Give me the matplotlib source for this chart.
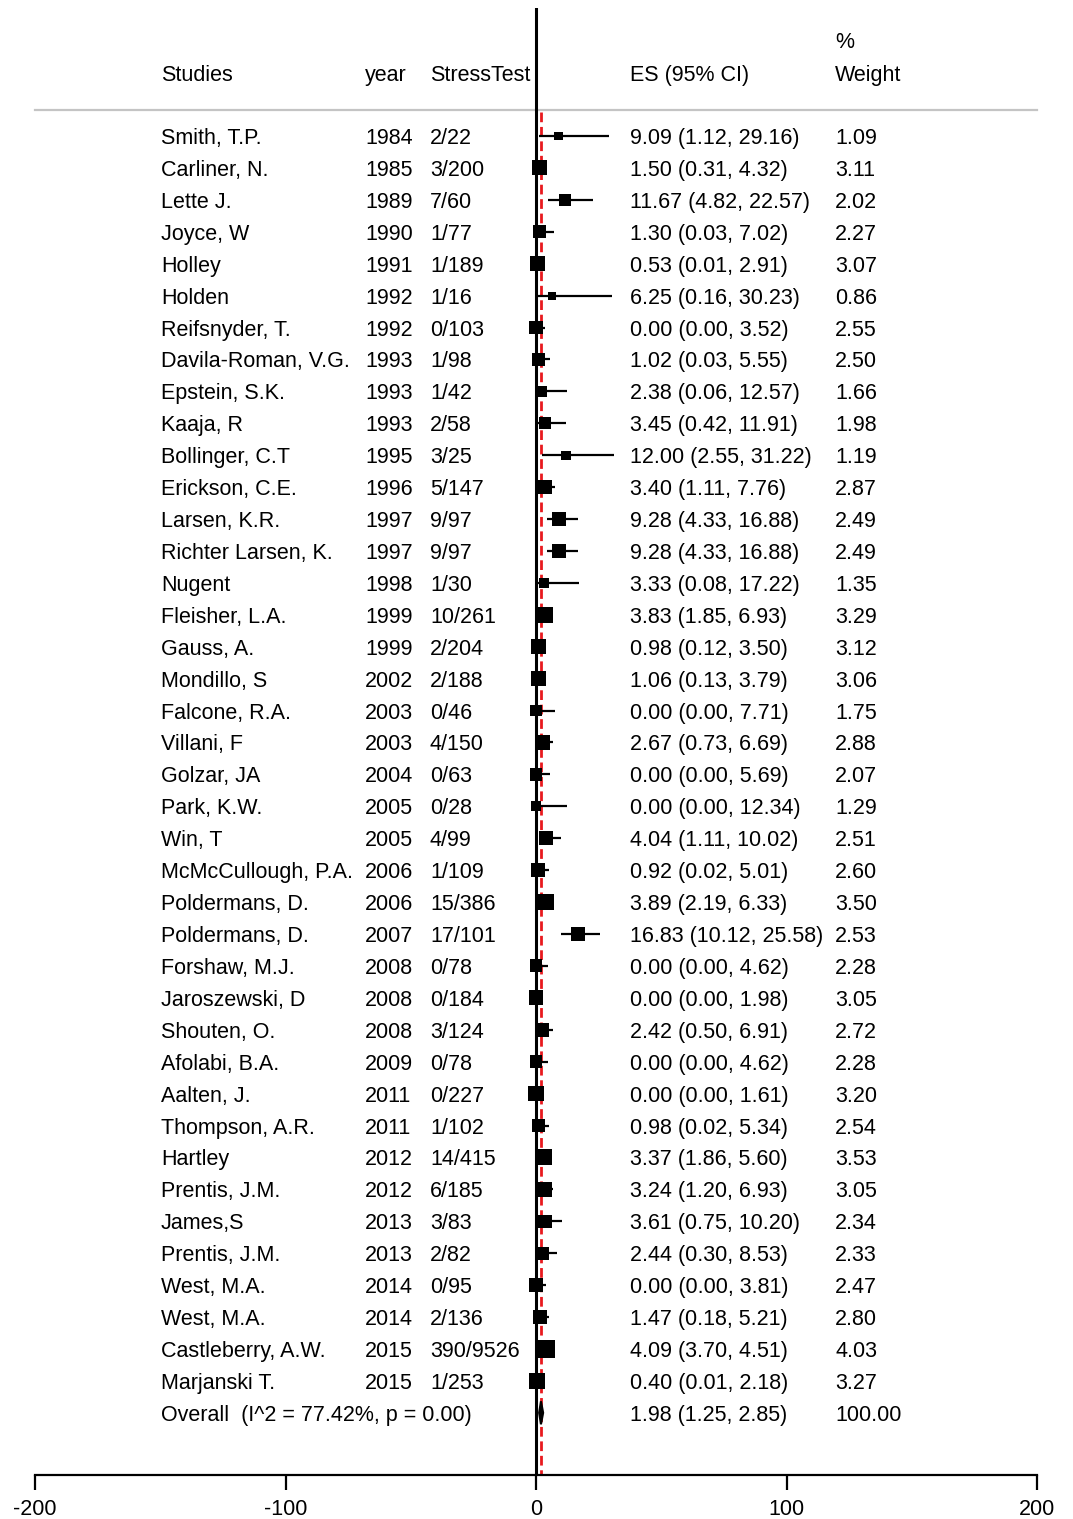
import matplotlib
matplotlib.use("Agg")
import matplotlib.pyplot as plt
from matplotlib.patches import Polygon

plt.rcParams['font.family'] = ['Liberation Sans', 'DejaVu Sans']

studies = ["Smith, T.P.", "Carliner, N.", "Lette J.", "Joyce, W", "Holley", "Holden",
           "Reifsnyder, T.", "Davila-Roman, V.G.", "Epstein, S.K.", "Kaaja, R",
           "Bollinger, C.T", "Erickson, C.E.", "Larsen, K.R.", "Richter Larsen, K.",
           "Nugent", "Fleisher, L.A.", "Gauss, A.", "Mondillo, S", "Falcone, R.A.",
           "Villani, F", "Golzar, JA", "Park, K.W.", "Win, T", "McMcCullough, P.A.",
           "Poldermans, D.", "Poldermans, D.", "Forshaw, M.J.", "Jaroszewski, D",
           "Shouten, O.", "Afolabi, B.A.", "Aalten, J.", "Thompson, A.R.", "Hartley",
           "Prentis, J.M.", "James,S", "Prentis, J.M.", "West, M.A.", "West, M.A.",
           "Castleberry, A.W.", "Marjanski T."]
years = [1984, 1985, 1989, 1990, 1991, 1992, 1992, 1993, 1993, 1993, 1995, 1996, 1997,
         1997, 1998, 1999, 1999, 2002, 2003, 2003, 2004, 2005, 2005, 2006, 2006, 2007,
         2008, 2008, 2008, 2009, 2011, 2011, 2012, 2012, 2013, 2013, 2014, 2014, 2015, 2015]
stress = ["2/22", "3/200", "7/60", "1/77", "1/189", "1/16", "0/103", "1/98", "1/42",
          "2/58", "3/25", "5/147", "9/97", "9/97", "1/30", "10/261", "2/204", "2/188",
          "0/46", "4/150", "0/63", "0/28", "4/99", "1/109", "15/386", "17/101", "0/78",
          "0/184", "3/124", "0/78", "0/227", "1/102", "14/415", "6/185", "3/83", "2/82",
          "0/95", "2/136", "390/9526", "1/253"]
es = [9.09, 1.50, 11.67, 1.30, 0.53, 6.25, 0.00, 1.02, 2.38, 3.45, 12.00, 3.40, 9.28,
      9.28, 3.33, 3.83, 0.98, 1.06, 0.00, 2.67, 0.00, 0.00, 4.04, 0.92, 3.89, 16.83,
      0.00, 0.00, 2.42, 0.00, 0.00, 0.98, 3.37, 3.24, 3.61, 2.44, 0.00, 1.47, 4.09, 0.40]
lo = [1.12, 0.31, 4.82, 0.03, 0.01, 0.16, 0.00, 0.03, 0.06, 0.42, 2.55, 1.11, 4.33,
      4.33, 0.08, 1.85, 0.12, 0.13, 0.00, 0.73, 0.00, 0.00, 1.11, 0.02, 2.19, 10.12,
      0.00, 0.00, 0.50, 0.00, 0.00, 0.02, 1.86, 1.20, 0.75, 0.30, 0.00, 0.18, 3.70, 0.01]
hi = [29.16, 4.32, 22.57, 7.02, 2.91, 30.23, 3.52, 5.55, 12.57, 11.91, 31.22, 7.76, 16.88,
      16.88, 17.22, 6.93, 3.50, 3.79, 7.71, 6.69, 5.69, 12.34, 10.02, 5.01, 6.33, 25.58,
      4.62, 1.98, 6.91, 4.62, 1.61, 5.34, 5.60, 6.93, 10.20, 8.53, 3.81, 5.21, 4.51, 2.18]
weight = [1.09, 3.11, 2.02, 2.27, 3.07, 0.86, 2.55, 2.50, 1.66, 1.98, 1.19, 2.87, 2.49,
          2.49, 1.35, 3.29, 3.12, 3.06, 1.75, 2.88, 2.07, 1.29, 2.51, 2.60, 3.50, 2.53,
          2.28, 3.05, 2.72, 2.28, 3.20, 2.54, 3.53, 3.05, 2.34, 2.33, 2.47, 2.80, 4.03, 3.27]

overall_label = "Overall  (I^2 = 77.42%, p = 0.00)"
overall_es, overall_lo, overall_hi, overall_w = 1.98, 1.25, 2.85, 100.00

xticks = [-200, -100, 0, 100, 200]

W, H = 1073, 1519
fig = plt.figure(figsize=(W / 100, H / 100), dpi=100)
ax = fig.add_axes([35 / W, 1 - 1475 / H, 1002 / W, (1475 - 8) / H])
row0, step = 136, 31.92
ytop = (8 - row0) / step
ybot = (1475 - row0) / step
ax.set_xlim(-200, 200)
ax.set_ylim(ybot, ytop)

def px2x(px):
    return (px - 536) / 2.505

def py2y(py):
    return (py - row0) / step

fs = 15.5
va = 'center_baseline'
n = len(studies)
rows = list(range(n))

for i in rows:
    ax.plot([lo[i], hi[i]], [i, i], color='black', lw=1.6, solid_capstyle='butt', zorder=3)
ax.scatter(es, rows, s=[38 * w for w in weight], marker='s', color='black',
           linewidths=0, zorder=4)

orow = n
dh = 0.36
diamond = Polygon([[overall_lo, orow], [overall_es, orow - dh], [overall_hi, orow],
                   [overall_es, orow + dh]], closed=True, facecolor='black',
                  edgecolor='black', lw=1.5, zorder=4)
ax.add_patch(diamond)

ax.axvline(0, color='black', lw=2.2, zorder=2)
ax.plot([overall_es, overall_es], [py2y(112), ybot], color='#e8191e', lw=2,
        linestyle=(0, (3.5, 1.7)), zorder=2.5)
ax.plot([-200, 200], [py2y(110), py2y(110)], color='#c4c4c4', lw=1.6, zorder=1,
        clip_on=False)

hy = py2y(73)
col_study, col_year, col_st, col_es, col_w = px2x(161), px2x(365), px2x(430), px2x(630), px2x(835)
ax.text(col_study, hy, "Studies", fontsize=fs, va=va, ha='left')
ax.text(col_year, hy, "year", fontsize=fs, va=va, ha='left')
ax.text(col_st, hy, "StressTest", fontsize=fs, va=va, ha='left')
ax.text(col_es, hy, "ES (95% CI)", fontsize=fs, va=va, ha='left')
ax.text(col_w, hy, "Weight", fontsize=fs, va=va, ha='left')
ax.text(col_w, py2y(40), "%", fontsize=fs, va=va, ha='left')

for i in rows:
    ax.text(col_study, i, studies[i], fontsize=fs, va=va, ha='left')
    ax.text(col_year, i, str(years[i]), fontsize=fs, va=va, ha='left')
    ax.text(col_st, i, stress[i], fontsize=fs, va=va, ha='left')
    ax.text(col_es, i, f"{es[i]:.2f} ({lo[i]:.2f}, {hi[i]:.2f})", fontsize=fs,
            va=va, ha='left')
    ax.text(col_w, i, f"{weight[i]:.2f}", fontsize=fs, va=va, ha='left')

ax.text(col_study, orow, overall_label, fontsize=fs, va=va, ha='left')
ax.text(col_es, orow, f"{overall_es:.2f} ({overall_lo:.2f}, {overall_hi:.2f})",
        fontsize=fs, va=va, ha='left')
ax.text(col_w, orow, f"{overall_w:.2f}", fontsize=fs, va=va, ha='left')

for s in ['top', 'left', 'right']:
    ax.spines[s].set_visible(False)
ax.spines['bottom'].set_linewidth(1.6)
ax.set_yticks([])
ax.set_xticks(xticks)
ax.set_xticklabels([str(t) for t in xticks])
ax.tick_params(axis='x', direction='out', length=11, width=1.6, pad=6, labelsize=fs)
ax.patch.set_alpha(0)

fig.savefig("out.png", dpi=100, facecolor='white')
